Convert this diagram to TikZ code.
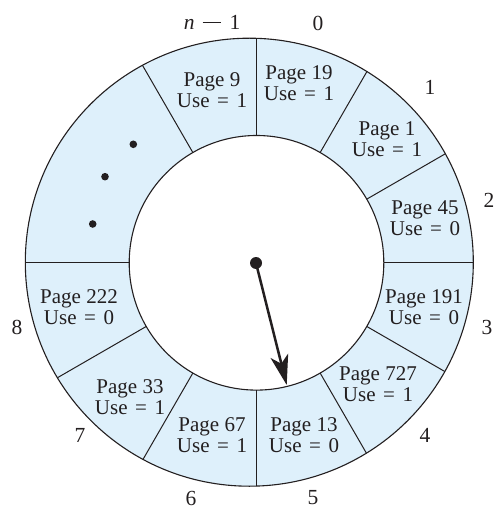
\documentclass[tikz,border=0pt]{standalone}
\usepackage{fontspec}
\setmainfont{Liberation Serif}
\usetikzlibrary{arrows.meta,calc}
\definecolor{ringfill}{RGB}{222,240,251}
\definecolor{ink}{RGB}{35,31,32}
\newcommand\myeq{\hspace{0.36em}=\hspace{0.36em}}
\begin{document}
\begin{tikzpicture}[x=1pt,y=-1pt,
  lbl/.style={font=\fontsize{21}{20.7}\selectfont, align=center, inner sep=0pt, text=ink},
  idx/.style={font=\fontsize{21.5}{22}\selectfont, inner sep=0pt, text=ink},
  divider/.style={line width=1pt, draw=ink},
  ring/.style={line width=1.1pt, draw=ink},
  dot/.style={circle, fill=ink, inner sep=0pt, minimum size=7.6pt},
  pivot/.style={circle, fill=ink, inner sep=0pt, minimum size=12pt}]
\useasboundingbox (0,0) rectangle (493,510);
\coordinate (O) at (249.3,262.2);
\coordinate (P) at (256.5,262.8);
\fill[ringfill, even odd rule] (O) circle[radius=224] (P) circle[radius=127.3];
\begin{scope}
  \clip (O) circle[radius=224];
  \foreach \a in {-120,-90,...,180}
    \draw[divider] ($(P)+(\a:127.3)$) -- ($(P)+(\a:260)$);
\end{scope}
\draw[ring] (O) circle[radius=224];
\draw[ring] (P) circle[radius=127.3];

\node[lbl] (s9)   at (212,90)  {Page 9\\Use\myeq 1};
\node[lbl] (s19)  at (299,83)  {Page 19\\Use\myeq 1};
\node[lbl] (s1)   at (387,139) {Page 1\\Use\myeq 1};
\node[lbl] (s45)  at (425,218) {Page 45\\Use\myeq 0};
\node[lbl] (s191) at (424,307) {Page 191\\Use\myeq 0};
\node[lbl] (s727) at (378,384) {Page 727\\Use\myeq 1};
\node[lbl] (s13)  at (304,435) {Page 13\\Use\myeq 0};
\node[lbl] (s67)  at (212,435) {Page 67\\Use\myeq 1};
\node[lbl] (s33)  at (130,397) {Page 33\\Use\myeq 1};
\node[lbl] (s222) at (79,307)  {Page 222\\Use\myeq 0};

\node[idx] (in1) at (212,22)  {\textit{n}\hspace{8pt}\rule[6pt]{18pt}{1.2pt}\hspace{9pt}1};
\node[idx] (i0)  at (318,23)  {0};
\node[idx] (i1)  at (430,87)  {1};
\node[idx] (i2)  at (489,200) {2};
\node[idx] (i3)  at (487,327) {3};
\node[idx] (i4)  at (425,435) {4};
\node[idx] (i5)  at (313,498) {5};
\node[idx] (i6)  at (191,498) {6};
\node[idx] (i7)  at (80,435)  {7};
\node[idx] (i8)  at (17,327)  {8};

\node[dot] (d1) at (133.3,144.3) {};
\node[dot] (d2) at (105,176.7) {};
\node[dot] (d3) at (92.7,224) {};

\node[pivot] (pv) at (256,263) {};
\coordinate (tip) at (286.7,385);
\draw[ink, line width=2.5pt, -{Stealth[length=30pt,width=18pt,inset=8pt]}] (pv.center) -- (tip);
\end{tikzpicture}
\end{document}
